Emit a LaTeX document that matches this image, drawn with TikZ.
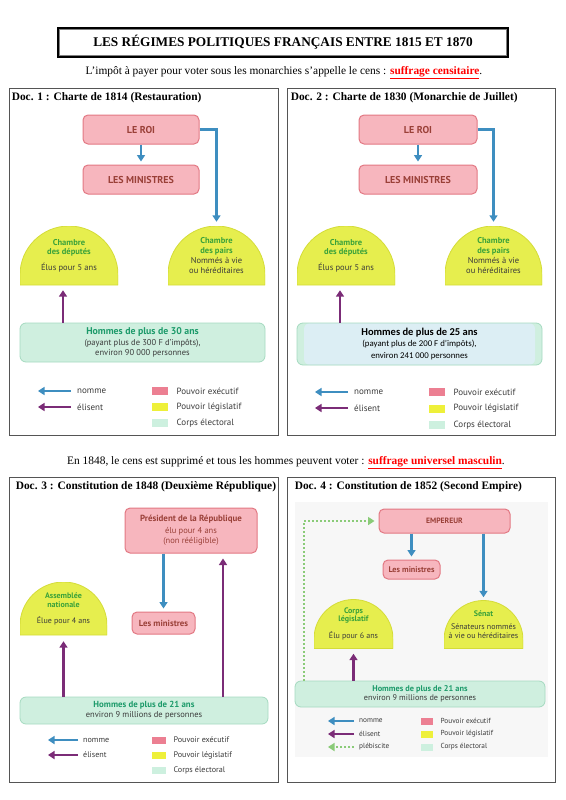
\documentclass[tikz,border=0pt]{standalone}
\usepackage{fontspec}
\setmainfont{Liberation Serif}
\newfontfamily\din{PT Sans}
\newfontfamily\carlito{Carlito}
\usetikzlibrary{positioning, arrows.meta}

\definecolor{rosefond}{HTML}{F7B6BE}
\definecolor{rosebord}{HTML}{E27883}
\definecolor{rosetexte}{HTML}{9A4038}
\definecolor{jaune}{HTML}{E6EE4E}
\definecolor{jaunebord}{HTML}{D4DC38}
\definecolor{vertdome}{HTML}{3AA23A}
\definecolor{vertfond}{HTML}{CFEFDF}
\definecolor{vertbord}{HTML}{A5DAC0}
\definecolor{verttexte}{HTML}{1C9A6A}
\definecolor{bleufond}{HTML}{DCEEF4}
\definecolor{bleu}{HTML}{3E8EC0}
\definecolor{violetel}{HTML}{7B2C77}
\definecolor{vertpleb}{HTML}{8ACB78}
\definecolor{roseleg}{HTML}{EC7F92}
\definecolor{jauneleg}{HTML}{EEF03A}
\definecolor{vertleg}{HTML}{CDF0DF}
\definecolor{gristexte}{HTML}{3A3A3A}
\definecolor{cadre}{HTML}{555555}

\newcommand\tit[1]{{\bfseries\color{vertdome}#1}}

\begin{document}
\begin{tikzpicture}[
    x=1pt, y=-1pt,
    titrebox/.style={
        draw=black,
        line width=2.5pt,
        minimum width=450pt,
        minimum height=29pt,
        font=\bfseries\fontsize{13.3}{15}\selectfont
    },
    docbox/.style={draw=cadre, line width=0.8pt},
    doctitre/.style={
        anchor=north west,
        inner sep=0pt,
        font=\bfseries\fontsize{11.4}{13}\selectfont
    },
    pouvoir/.style={
        rectangle,
        rounded corners=5pt,
        draw=rosebord,
        fill=rosefond,
        line width=1pt,
        text=rosetexte,
        align=center,
        inner sep=0pt
    },
    dome/.style 2 args={
        rectangle,
        minimum width=#1,
        minimum height=#2,
        inner sep=0pt,
        align=center,
        text=gristexte,
        path picture={
            \filldraw[fill=jaune, draw=jaunebord, line width=0.8pt]
                (path picture bounding box.south west) -- ++(0pt,#2-#1/2)
                arc[start angle=180, end angle=0, radius=#1/2]
                -- (path picture bounding box.south east) -- cycle;
        }
    },
    corps/.style={
        rectangle,
        rounded corners=6pt,
        draw=vertbord,
        fill=vertfond,
        line width=0.8pt,
        align=center,
        inner sep=0pt,
        text=gristexte
    },
    nomme/.style={
        draw=bleu,
        line width=2.2pt,
        -{Triangle[length=6.5pt, width=8pt]}
    },
    elisent/.style={
        draw=violetel,
        line width=2.2pt,
        -{Triangle[length=6.5pt, width=8pt]}
    },
    plebiscite/.style={
        draw=vertpleb,
        line width=1.8pt,
        dash pattern=on 2pt off 2pt,
        -{Triangle[length=6.5pt, width=8pt]}
    },
    legende/.style={anchor=west, inner sep=0pt, text=gristexte},
    carre/.style={anchor=west, inner sep=0pt}
]
\useasboundingbox (0,0) rectangle (565,800);

% titre et phrases
\node[titrebox] (titre) at (283,42.5) {LES RÉGIMES POLITIQUES FRANÇAIS ENTRE 1815 ET 1870};
\draw[gray, line width=0.8pt] ([shift={(3,3)}]titre.north west) rectangle ([shift={(-3,-3)}]titre.south east);

\node[font=\fontsize{11.4}{13}\selectfont] (cens) at (284,73)
    {L’impôt à payer pour voter sous les monarchies s’appelle le cens : \textcolor{red}{\bfseries\underline{suffrage censitaire}}.};
\node[font=\fontsize{11.4}{13}\selectfont] (universel) at (286,463)
    {En 1848, le cens est supprimé et tous les hommes peuvent voter : \textcolor{red}{\bfseries\underline{suffrage universel masculin}}.};

% Doc. 1
\node[docbox, minimum width=269pt, minimum height=347pt] (doc1) at (143.5,261.5) {};
\node[doctitre] (titre1) at ([shift={(3,5)}]doc1.north west) {Doc. 1 : Charte de 1814 (Restauration)};

\node[pouvoir, minimum width=116pt, minimum height=29pt, font=\din\bfseries\fontsize{10}{11}\selectfont] (roi1) at (141,129.5) {LE ROI};
\node[pouvoir, minimum width=116pt, minimum height=29pt, font=\din\bfseries\fontsize{10}{11}\selectfont] (min1) at (141,179.5) {LES MINISTRES};
\node[dome={98pt}{59pt}, font=\din\fontsize{8.5}{9.5}\selectfont] (dep1) at (69,255.5)
    {\tit{Chambre}\\\tit{des députés}\\[6pt]Élus pour 5 ans};
\node[dome={97pt}{59pt}, font=\din\fontsize{8.5}{9.5}\selectfont] (pairs1) at (216.5,255.5)
    {\tit{Chambre}\\\tit{des pairs}\\[1pt]Nommés à vie\\ou héréditaires};
\node[corps, minimum width=245pt, minimum height=39pt, font=\din\fontsize{8.5}{10.5}\selectfont] (corps1) at (142.5,342.5)
    {\textcolor{verttexte}{\bfseries\fontsize{9.8}{10.5}\selectfont Hommes de plus de 30 ans}\\(payant plus de 300 F d’impôts),\\environ 90 000 personnes};

\draw[nomme, shorten >=3pt] (roi1) -- (min1);
\draw[nomme, shorten >=4pt] (roi1.east) -| (pairs1.north);
\draw[elisent, shorten >=5pt] ([xshift=-6pt]corps1.north -| dep1.south) -- ([xshift=-6pt]dep1.south);

\node[legende, font=\din\fontsize{9}{10}\selectfont] (nom1) at (77,391) {nomme};
\node[legende, font=\din\fontsize{9}{10}\selectfont] (eli1) at (77,407) {élisent};
\draw[nomme] ([xshift=-6pt]nom1.west) -- ++(-33,0);
\draw[elisent] ([xshift=-6pt]eli1.west) -- ++(-33,0);
\foreach \c/\t [count=\i] in {roseleg/Pouvoir exécutif, jauneleg/Pouvoir législatif, vertleg/Corps électoral} {
    \node[carre, fill=\c, minimum width=16pt, minimum height=8pt] (sqa\i) at (152,391+16*\i-16) {};
    \node[legende, font=\din\fontsize{9}{10}\selectfont] at ([xshift=8pt]sqa\i.east) {\t};
}

% Doc. 2
\begin{scope}[xshift=277pt]
\node[docbox, minimum width=268pt, minimum height=347pt] (doc2) at (144,261.5) {};
\node[doctitre] (titre2) at ([shift={(4,5)}]doc2.north west) {Doc. 2 : Charte de 1830 (Monarchie de Juillet)};

\node[pouvoir, minimum width=118pt, minimum height=29pt, font=\din\bfseries\fontsize{10}{11}\selectfont] (roi2) at (141,129.5) {LE ROI};
\node[pouvoir, minimum width=118pt, minimum height=29pt, font=\din\bfseries\fontsize{10}{11}\selectfont] (min2) at (141,179.5) {LES MINISTRES};
\node[dome={98pt}{59pt}, font=\din\fontsize{8.5}{9.5}\selectfont] (dep2) at (69,255.5)
    {\tit{Chambre}\\\tit{des députés}\\[6pt]Élus pour 5 ans};
\node[dome={97pt}{59pt}, font=\din\fontsize{8.5}{9.5}\selectfont] (pairs2) at (216.5,255.5)
    {\tit{Chambre}\\\tit{des pairs}\\[1pt]Nommés à vie\\ou héréditaires};
\node[corps, minimum width=245pt, minimum height=42pt, text=black, font=\carlito\fontsize{8.8}{11.5}\selectfont,
    path picture={\fill[bleufond] ([xshift=7pt]path picture bounding box.south west) rectangle ([xshift=-7pt]path picture bounding box.north east);}]
    (corps2) at (142.5,344)
    {{\bfseries\fontsize{10.5}{12}\selectfont Hommes de plus de 25 ans}\\(payant plus de 200 F d’impôts),\\environ 241 000 personnes};

\draw[nomme, shorten >=3pt] (roi2) -- (min2);
\draw[nomme, shorten >=4pt] (roi2.east) -| (pairs2.north);
\draw[elisent, shorten >=5pt] ([xshift=-6pt]corps2.north -| dep2.south) -- ([xshift=-6pt]dep2.south);

\node[legende, font=\din\fontsize{9}{10}\selectfont] (nom2) at (77,392) {nomme};
\node[legende, font=\din\fontsize{9}{10}\selectfont] (eli2) at (77,408) {élisent};
\draw[nomme] ([xshift=-6pt]nom2.west) -- ++(-33,0);
\draw[elisent] ([xshift=-6pt]eli2.west) -- ++(-33,0);
\foreach \c/\t [count=\i] in {roseleg/Pouvoir exécutif, jauneleg/Pouvoir législatif, vertleg/Corps électoral} {
    \node[carre, fill=\c, minimum width=16pt, minimum height=8pt] (sqb\i) at (152,392+16.5*\i-16.5) {};
    \node[legende, font=\din\fontsize{9}{10}\selectfont] at ([xshift=8pt]sqb\i.east) {\t};
}
\end{scope}

% Doc. 3
\node[docbox, minimum width=269pt, minimum height=305pt] (doc3) at (143.5,629.5) {};
\node[doctitre] (titre3) at ([shift={(7,5)}]doc3.north west) {Doc. 3 : Constitution de 1848 (Deuxième République)};

\node[pouvoir, minimum width=132pt, minimum height=45pt, font=\din\fontsize{8.5}{10}\selectfont] (pres3) at (191,530.5)
    {{\bfseries\fontsize{8.9}{10}\selectfont Président de la République}\\[2pt]élu pour 4 ans\\(non rééligible)};
\node[pouvoir, minimum width=63pt, minimum height=22pt, font=\din\bfseries\fontsize{8.8}{10}\selectfont] (min3) at (163.5,623) {Les ministres};
\node[dome={87pt}{53pt}, font=\din\fontsize{8}{9}\selectfont] (ass3) at (63.5,608.5)
    {\tit{Assemblée}\\\tit{nationale}\\[7pt]Élue pour 4 ans};
\node[corps, minimum width=248pt, minimum height=27pt, font=\din\fontsize{8.5}{10}\selectfont] (corps3) at (144,710.5)
    {\textcolor{verttexte}{\bfseries\fontsize{8.8}{10}\selectfont Hommes de plus de 21 ans}\\environ 9 millions de personnes};

\draw[nomme, shorten >=3pt] (pres3.south -| min3.north) -- (min3.north);
\draw[elisent, shorten >=6pt] (corps3.north -| ass3.south) -- (ass3.south);
\draw[elisent, shorten >=5pt] ([xshift=32pt]corps3.north -| pres3.south) -- ([xshift=32pt]pres3.south);

\node[legende, font=\din\fontsize{8.1}{9}\selectfont] (nom3) at (83,740) {nomme};
\node[legende, font=\din\fontsize{8.1}{9}\selectfont] (eli3) at (83,755) {élisent};
\draw[nomme] ([xshift=-5pt]nom3.west) -- ++(-30,0);
\draw[elisent] ([xshift=-5pt]eli3.west) -- ++(-30,0);
\foreach \c/\t [count=\i] in {roseleg/Pouvoir exécutif, jauneleg/Pouvoir législatif, vertleg/Corps électoral} {
    \node[carre, fill=\c, minimum width=14pt, minimum height=7pt] (sqc\i) at (152,740+15*\i-15) {};
    \node[legende, font=\din\fontsize{8.1}{9}\selectfont] at ([xshift=7pt]sqc\i.east) {\t};
}

% Doc. 4
\node[docbox, minimum width=268pt, minimum height=305pt] (doc4) at (421,629.5) {};
\node[doctitre] (titre4) at ([shift={(8,5)}]doc4.north west) {Doc. 4 : Constitution de 1852 (Second Empire)};
\fill[black!3] (295,502) rectangle (548,757);

\node[pouvoir, minimum width=131pt, minimum height=24pt, font=\din\bfseries\fontsize{7.7}{9}\selectfont] (emp4) at (444.5,521) {EMPEREUR};
\node[pouvoir, minimum width=57pt, minimum height=19pt, font=\din\bfseries\fontsize{8.2}{9}\selectfont] (min4) at (411.5,569.5) {Les ministres};
\node[dome={79pt}{49pt}, font=\din\fontsize{8}{8.5}\selectfont] (leg4) at (353.5,624)
    {\tit{Corps}\\\tit{législatif}\\[7pt]Élu pour 6 ans};
\node[dome={79pt}{48pt}, font=\din\fontsize{8}{8.8}\selectfont] (senat4) at (483.5,624.5)
    {\tit{Sénat}\\[5pt]Sénateurs nommés\\à vie ou héréditaires};
\node[corps, minimum width=250pt, minimum height=26pt, font=\din\fontsize{8.2}{9.5}\selectfont] (corps4) at (420,694)
    {\textcolor{verttexte}{\bfseries\fontsize{8.3}{9.5}\selectfont Hommes de plus de 21 ans}\\environ 9 millions de personnes};

\draw[nomme, shorten >=3pt] (emp4.south -| min4.north) -- (min4.north);
\draw[nomme, shorten >=3pt] (emp4.south -| senat4.north) -- (senat4.north);
\draw[elisent, shorten >=5pt] (corps4.north -| leg4.south) -- (leg4.south);
\draw[plebiscite, shorten >=4pt] ([xshift=9pt]corps4.north west) |- (emp4.west);

\node[legende, font=\din\fontsize{7.3}{8}\selectfont] (nom4) at (359,721) {nomme};
\node[legende, font=\din\fontsize{7.3}{8}\selectfont] (eli4) at (359,734) {élisent};
\node[legende, font=\din\fontsize{7.3}{8}\selectfont] (pleb4) at (359,747) {plébiscite};
\draw[nomme] ([xshift=-5pt]nom4.west) -- ++(-26,0);
\draw[elisent] ([xshift=-5pt]eli4.west) -- ++(-26,0);
\draw[plebiscite] ([xshift=-5pt]pleb4.west) -- ++(-26,0);
\foreach \c/\t [count=\i] in {roseleg/Pouvoir exécutif, jauneleg/Pouvoir législatif, vertleg/Corps électoral} {
    \node[carre, fill=\c, minimum width=12pt, minimum height=7pt] (sqd\i) at (421,721+13*\i-13) {};
    \node[legende, font=\din\fontsize{7.3}{8}\selectfont] at ([xshift=7pt]sqd\i.east) {\t};
}

\end{tikzpicture}
\end{document}
